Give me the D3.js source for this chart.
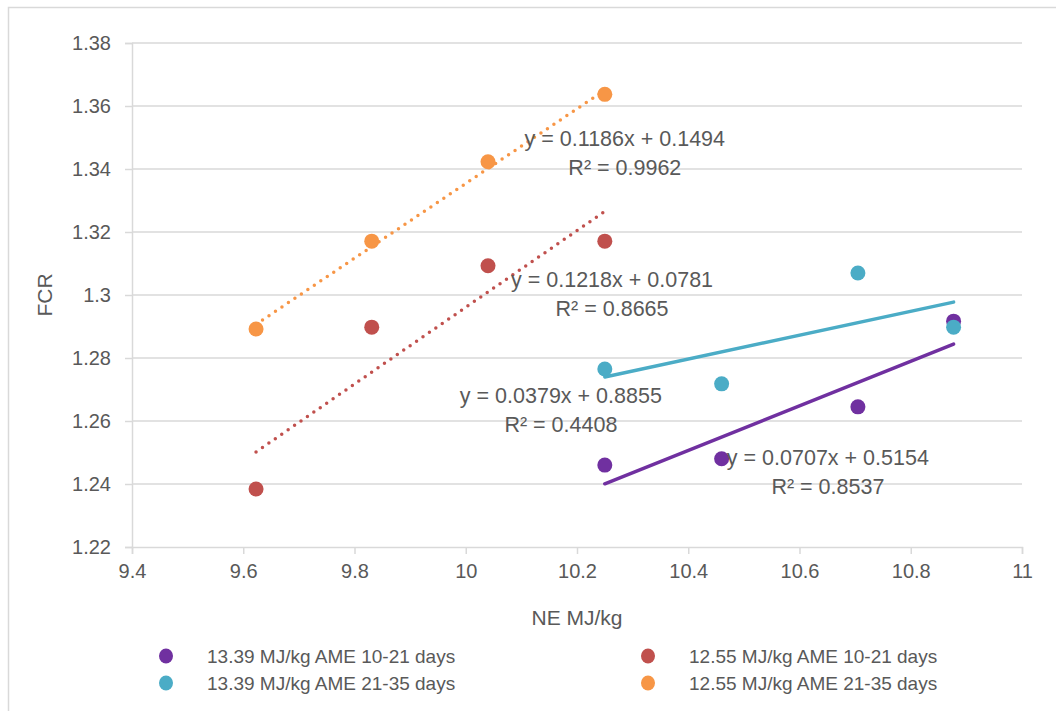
<!DOCTYPE html>
<html>
<head>
<meta charset="utf-8">
<script src="https://d3js.org/d3.v7.min.js"></script>
<style>
body { margin: 0; background: #fff; }
svg { display: block; font-family: 'Liberation Sans', Arial, sans-serif; }
.tick text { fill: #595959; font-size: 20px; }
.label { fill: #595959; }
</style>
</head>
<body>
<div id="chart"></div>
<script>

var width = 1056;
var height = 711;

// plot area in page pixels (window.top is taken, hence the names)
var plotLeft = 132, plotRight = 1022, plotTop = 43, plotBottom = 547;

// NE MJ/kg values (x) and FCR values (y) per series
var names = ["13.39 MJ/kg AME 10-21 days", "13.39 MJ/kg AME 21-35 days",
             "12.55 MJ/kg AME 10-21 days", "12.55 MJ/kg AME 21-35 days"];
var colors = ["#7030A0", "#4BACC6", "#C0504D", "#F79646"];

var neHigh = [10.25, 10.46, 10.705, 10.877];
var neLow = [9.623, 9.831, 10.04, 10.25];

var fcrHigh1021 = [1.246, 1.248, 1.2645, 1.2917];
var fcrHigh2135 = [1.2765, 1.2718, 1.307, 1.2898];
var fcrLow1021 = [1.2384, 1.2898, 1.3093, 1.3171];
var fcrLow2135 = [1.2892, 1.3171, 1.3423, 1.3637];

// linear trendlines: slope, intercept, R²
var slopes = [0.0707, 0.0379, 0.1218, 0.1186];
var intercepts = [0.5154, 0.8855, 0.0781, 0.1494];
var rSquared = ["0.8537", "0.4408", "0.8665", "0.9962"];
var dotted = [false, false, true, true];

// where the equation labels sit (data coordinates, first line baseline)
var labelX = [10.651, 10.171, 10.263, 10.286];
var labelY = [1.2460, 1.2657, 1.3025, 1.3473];

var xTicks = d3.range(9.4, 11.0001, 0.2);
var yTicks = d3.range(1.22, 1.38001, 0.02);

var series = [
  { x: neHigh, y: fcrHigh1021 },
  { x: neHigh, y: fcrHigh2135 },
  { x: neLow, y: fcrLow1021 },
  { x: neLow, y: fcrLow2135 }
];

var svg = d3.select("#chart").append("svg")
  .attr("width", width).attr("height", height);

// chart border (only the top and left edges show in the picture)
svg.append("rect")
  .attr("x", 8.5).attr("y", 7.5)
  .attr("width", width + 10).attr("height", height + 10)
  .style("fill", "none").style("stroke", "#D9D9D9").style("stroke-width", 1.5);

var xScale = d3.scaleLinear().domain([9.4, 11]).range([plotLeft, plotRight]);
var yScale = d3.scaleLinear().domain([1.22, 1.38]).range([plotBottom, plotTop]);

// gridlines
svg.append("g").selectAll("line").data(yTicks.slice(1)).enter()
  .append("line")
  .attr("x1", plotLeft).attr("x2", plotRight)
  .attr("y1", function (d) { return yScale(d); })
  .attr("y2", function (d) { return yScale(d); })
  .style("stroke", "#D9D9D9").style("stroke-width", 1.5);

var xAxis = d3.axisBottom(xScale).tickValues(xTicks).tickSizeOuter(0).tickSize(7).tickPadding(10)
  .tickFormat(function (d) { return d3.format("")(+d.toFixed(1)); });
var gx = svg.append("g").attr("transform", "translate(0," + plotBottom + ")").call(xAxis);

var yAxis = d3.axisLeft(yScale).tickValues(yTicks).tickSizeOuter(0).tickSize(7).tickPadding(14)
  .tickFormat(function (d) { return d3.format("")(+d.toFixed(2)); });
var gy = svg.append("g").attr("transform", "translate(" + plotLeft + ",0)").call(yAxis);

[gx, gy].forEach(function (g) {
  g.select(".domain").style("stroke", "#D9D9D9").style("stroke-width", 1.5);
  g.selectAll(".tick line").style("stroke", "#D9D9D9").style("stroke-width", 1.5);
  g.selectAll(".tick text").style("font-family", "'Liberation Sans', Arial, sans-serif");
});

// axis titles
svg.append("text").attr("class", "label")
  .attr("x", (plotLeft + plotRight) / 2).attr("y", 625)
  .attr("text-anchor", "middle").style("font-size", "21px")
  .text("NE MJ/kg");
svg.append("text").attr("class", "label")
  .attr("transform", "translate(52,295) rotate(-90)")
  .attr("text-anchor", "middle").style("font-size", "21px")
  .text("FCR");

// trendlines
series.forEach(function (s, i) {
  var x0 = d3.min(s.x), x1 = d3.max(s.x);
  svg.append("line")
    .attr("x1", xScale(x0)).attr("y1", yScale(slopes[i] * x0 + intercepts[i]))
    .attr("x2", xScale(x1)).attr("y2", yScale(slopes[i] * x1 + intercepts[i]))
    .style("stroke", colors[i])
    .style("stroke-width", 3.5)
    .style("stroke-linecap", "round")
    .style("stroke-dasharray", dotted[i] ? "0 7.8" : null);
});

// markers
series.forEach(function (s, i) {
  svg.append("g").selectAll("circle").data(s.x).enter()
    .append("circle")
    .attr("cx", function (d) { return xScale(d); })
    .attr("cy", function (d, j) { return yScale(s.y[j]); })
    .attr("r", 7.5)
    .style("fill", colors[i]);
});

// trendline equations
series.forEach(function (s, i) {
  var t = svg.append("text").attr("class", "label")
    .attr("text-anchor", "middle").style("font-size", "21.5px")
    .attr("x", xScale(labelX[i])).attr("y", yScale(labelY[i]));
  t.append("tspan").attr("x", xScale(labelX[i])).attr("dy", 0)
    .text("y = " + slopes[i].toFixed(4) + "x + " + intercepts[i].toFixed(4));
  t.append("tspan").attr("x", xScale(labelX[i])).attr("dy", 28.5)
    .text("R² = " + rSquared[i]);
});

// legend, two columns
var legendX = [166, 648];
var legendY = [656, 683];
names.forEach(function (name, i) {
  var col = i < 2 ? 0 : 1;
  var row = i % 2;
  svg.append("ellipse")
    .attr("cx", legendX[col]).attr("cy", legendY[row])
    .attr("rx", 7).attr("ry", 7.5)
    .style("fill", colors[i]);
  svg.append("text").attr("class", "label")
    .attr("x", legendX[col] + 41).attr("y", legendY[row] + 7)
    .style("font-size", "19px")
    .text(name);
});

</script>
</body>
</html>
